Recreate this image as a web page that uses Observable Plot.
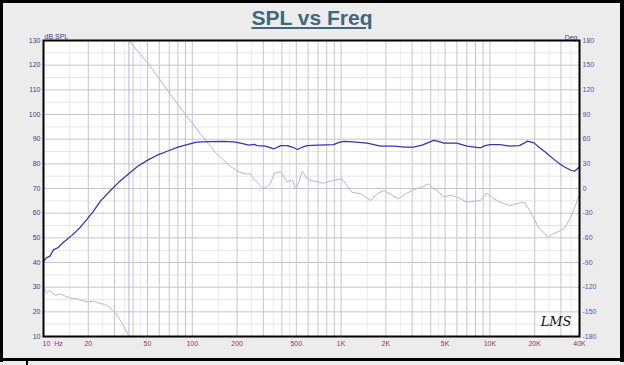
<!DOCTYPE html>
<html><head><meta charset="utf-8">
<script src="https://cdn.jsdelivr.net/npm/d3@7"></script>
<script src="https://cdn.jsdelivr.net/npm/@observablehq/plot@0.6"></script>
<style>
body{margin:0;background:#ececec;}
#wrap{position:relative;width:624px;height:365px;background:#ececec;overflow:hidden;font-family:Arial,"Liberation Sans",sans-serif;}
.b{position:absolute;background:#000;}
#title{position:absolute;left:0;width:624px;top:6px;text-align:center;font-weight:bold;font-size:21px;color:#3f687d;text-decoration:underline;text-underline-offset:2px;}
#chart{position:absolute;left:0;top:0;}
</style></head>
<body><div id="wrap">
<div class="b" style="left:0;top:0;width:3px;height:362px"></div>
<div class="b" style="right:0;top:0;width:4px;height:362px"></div>
<div class="b" style="left:0;top:0;width:624px;height:3px"></div>
<div class="b" style="left:0;top:358px;width:624px;height:3px"></div>
<div class="b" style="left:26px;top:358px;width:2px;height:7px"></div>
<div id="title">SPL vs Freq</div>
<div id="chart"></div>
</div>
<script>
// SPL magnitude (Hz, dB SPL)
const splFreq = [10,10.5,11,11.7,12.5,13.5,14.5,15.5,16.5,17.7,19.7,21.5,24.2,28.2,32,38.4,43,49.8,58,67.9,80,92.3,107,130,162,190,211,240,260,273,310,354,393,435,470,509,550,591,700,889,960,1040,1200,1496,1840,2260,2700,3070,3500,3780,4190,4500,4910,5990,7010,8640,9300,10040,11680,13580,15790,17100,17900,19800,21500,23650,25500,27500,30000,32000,35000,37000,39000,40000];
const splDb   = [40.5,42,42.5,45.2,46,48,49.5,51,52.5,54.3,57.7,60.5,65,69.2,72.5,76.6,79,81.4,83.5,85.1,86.8,87.8,88.8,89,89.1,88.9,88.4,87.6,87.9,87.4,87.2,86.1,87.4,87.4,86.8,85.8,86.8,87.4,87.6,87.8,88.6,89.1,88.9,88.4,87.2,87.2,86.8,86.8,87.6,88.4,89.5,89.1,88.4,88.4,87.2,86.5,87.4,87.8,87.8,87.2,87.4,88.5,89.2,88.5,86.6,84.7,83,81.4,79.6,78.6,77.4,77.0,78.2,78.8];
// Phase (Hz, degrees) – wraps from -180 to +180 near 37.5 Hz
const phFreq = [10,10.5,11,12,13,14,15,16.5,18,20,22,24,26,28,30,32,34,36,37.5,37.5,52.4,71.4,90,113,143,180,210,230,246,262,273,288,302,320,335,354,392,415,435,470,495,520,548,580,620,700,760,889,1010,1070,1180,1350,1580,1760,1940,2200,2430,2750,3070,3500,3880,4150,4410,4910,5400,5990,7010,8640,9580,10500,11680,13580,15500,17100,18500,21200,23000,24800,26500,28300,31400,35000,39000,40000];
const phDeg  = [-120,-127,-124,-130,-128,-131,-133,-134,-136,-138,-137,-140,-141,-145,-150,-157,-165,-173,-180,180,148.4,114.3,90,66.9,43.8,26.8,19.5,17.5,17.9,10,7.7,3,-0.4,3,5.7,17.9,20.5,14,8,10,-0.4,8,21.1,14,9.7,8,6.5,9.7,11.8,5.7,-4.5,-6.4,-14.6,-6,-2.4,-8,-12.5,-6,-1.6,2,5.7,0,-2.4,-10.5,-8,-10.5,-16.6,-14.6,-5.7,-12,-16.6,-20.7,-18,-16.6,-26.8,-47,-54,-59.2,-55,-53.1,-49,-34.9,-12.5,-8];

const dbTicks  = [130,120,110,100,90,80,70,60,50,40,30,20,10];
const degTicks = [180,150,120,90,60,30,0,-30,-60,-90,-120,-150,-180];
const xFirstLabel = "10  Hz";
const xTickVals   = [20,50,100,200,500,1000,2000,5000,10000,20000,40000];
const xTickLabels = ["20","50","100","200","500","1K","2K","5K","10K","20K","40K"];
const gridMultiples = [1,2,3,4,5,6,7,8,9];
const decades = [10,100,1000,10000];

const toDb = deg => 10 + (deg + 180) / 3;   // phase axis mapped onto the dB scale
const splData = splFreq.map((f,i)=>({f, v: splDb[i]}));
const phData  = phFreq.map((f,i)=>({f, v: toDb(phDeg[i])}));
const vGrid = decades.flatMap(d => gridMultiples.map(m => m*d)).filter(f => f > 10 && f < 40000);
const vMinor = decades.flatMap(d => [1.5,2.5,3.5,4.5].map(m => m*d)).filter(f => f > 10 && f < 40000);
const minorH = dbTicks.slice(0,-1).map(v => v - 5);
const xLab = xTickVals.map((v,i)=>({v, t: xTickLabels[i]}));

const chart = Plot.plot({
  width: 624, height: 365,
  marginLeft: 43, marginRight: 45, marginTop: 40, marginBottom: 29,
  style: {background: "transparent", fontFamily: "Arial, 'Liberation Sans', sans-serif", fontSize: "7px"},
  x: {type: "log", domain: [10, 40000], axis: null},
  y: {domain: [10, 130], axis: null},
  marks: [
    Plot.frame({fill: "white"}),
    Plot.ruleX(vMinor, {x: d=>d, stroke: "#ececec"}),
    Plot.ruleY(minorH, {y: d=>d, stroke: "#e6e6e6"}),
    Plot.ruleX(vGrid, {x: d=>d, stroke: "#c6c6c6"}),
    Plot.ruleY(dbTicks, {y: d=>d, stroke: "#c6c6c6"}),
    Plot.line(phData, {x: "f", y: "v", stroke: "#b4b4e6", strokeWidth: 1}),
    Plot.line(splData, {x: "f", y: "v", stroke: "#3434ab", strokeWidth: 1.25}),
    Plot.frame({stroke: "black", strokeWidth: 2}),
    Plot.axisY(dbTicks, {anchor: "left", tickSize: 0, tickPadding: 3, color: "#34427e", tickFormat: d => String(d), label: null}),
    Plot.axisY(degTicks.map(toDb), {anchor: "right", tickSize: 0, tickPadding: 3, color: "#3d5ea6", tickFormat: d => String(Math.round((d-10)*3-180)), label: null}),
    Plot.text(xLab, {x: "v", frameAnchor: "bottom", text: "t", dy: 9, fill: "#9a2f5c"}),
    Plot.text([xFirstLabel], {x: () => 10, frameAnchor: "bottom", text: d => d, textAnchor: "start", dy: 9, dx: -1, fill: "#9a2f5c"}),
    Plot.text(["dB SPL"], {frameAnchor: "top-left", text: d=>d, textAnchor: "start", dy: -6, dx: 1, fill: "#34427e"}),
    Plot.text(["Deg"], {frameAnchor: "top-right", text: d=>d, textAnchor: "end", dy: -5, dx: -2, fill: "#34427e"}),
    Plot.text(["LMS"], {frameAnchor: "bottom-right", text: d=>d, textAnchor: "end", dx: -8, dy: -11, fontSize: 13, fontStyle: "italic", fontFamily: "'DejaVu Serif', serif", fill: "#111"})
  ]
});
document.getElementById("chart").appendChild(chart);
</script>
</body></html>
